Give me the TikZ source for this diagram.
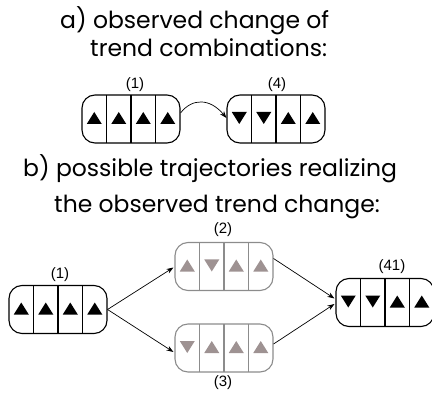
\documentclass[tikz,border=0pt]{standalone}
\usepackage{fontspec}
\setmainfont{Poppins}
\newfontfamily\lblfont{Liberation Sans}
\usetikzlibrary{arrows.meta}
\definecolor{tgray}{RGB}{158,146,146}
\definecolor{bgray}{RGB}{140,140,140}
\tikzset{
  tb/.style={rectangle, rounded corners=13pt, minimum width=98pt, minimum height=48pt, inner sep=0pt, line width=1.1pt},
  lbl/.style={font=\lblfont\fontsize{15}{17}\selectfont, inner sep=0pt},
  ttl/.style={font=\fontsize{23.5}{28}\selectfont, inner sep=0pt, anchor=base west},
  arr/.style={line width=0.7pt, -{Stealth[length=7pt,width=5pt]}},
}
\newcommand\trendbox[6]{%
  \node[tb, draw=#4] (#1) at (#2,#3) {};
  \foreach \k in {1,2,3} \draw[#4, line width=1.1pt] (#2-49+24.5*\k, #3-24) -- (#2-49+24.5*\k, #3+24);
  \foreach \d [count=\i] in {#6} {
    \pgfmathsetmacro\cx{#2-49+12.25+24.5*(\i-1)}
    \if u\d \fill[#5] (\cx-7.5,#3+5) -- (\cx+7.5,#3+5) -- (\cx,#3-7) -- cycle;
    \else \fill[#5] (\cx-7.5,#3-7) -- (\cx+7.5,#3-7) -- (\cx,#3+5) -- cycle; \fi
  }
}
\begin{document}
\begin{tikzpicture}[x=1pt,y=-1pt]
\useasboundingbox (0,0) rectangle (432,396);
% titles
\node[ttl] (ta1) at (60,28.5) {a) observed change of};
\node[ttl] (ta2) at (90,57) {trend combinations:};
\node[ttl] (tb1) at (23,177) {b) possible trajectories realizing};
\node[ttl] (tb2) at (54,213) {the observed trend change:};
% part a
\trendbox{A1}{131}{119}{black}{black}{u,u,u,u}
\trendbox{A4}{276}{119}{black}{black}{d,d,u,u}
\node[lbl] (lA1) at (135,85) {(1)};
\node[lbl] (lA4) at (277,85) {(4)};
\draw[arr] ([yshift=6pt]A1.east) .. controls (192,98) and (210,98) .. ([yshift=1pt]A4.west);
% part b
\trendbox{B1}{58}{309.5}{black}{black}{u,u,u,u}
\trendbox{B2}{224}{266.5}{bgray}{tgray}{u,d,u,u}
\trendbox{B3}{224}{348}{bgray}{tgray}{d,u,u,u}
\trendbox{B41}{385}{302.5}{black}{black}{d,d,u,u}
\node[lbl] (lB1) at (60,275) {(1)};
\node[lbl] (lB2) at (223,230) {(2)};
\node[lbl] (lB3) at (223,383) {(3)};
\node[lbl] (lB41) at (392,267) {(41)};
\draw[arr] (B1.east) -- ([xshift=-1pt,yshift=-1pt]B2.west);
\draw[arr] (B1.east) -- ([xshift=-1pt,yshift=-4pt]B3.west);
\draw[arr] ([yshift=8pt]B2.east) -- ([xshift=-1pt,yshift=4pt]B41.west);
\draw[arr] ([yshift=4pt]B3.east) -- ([xshift=-1pt,yshift=-1.5pt]B41.west);
\end{tikzpicture}
\end{document}
